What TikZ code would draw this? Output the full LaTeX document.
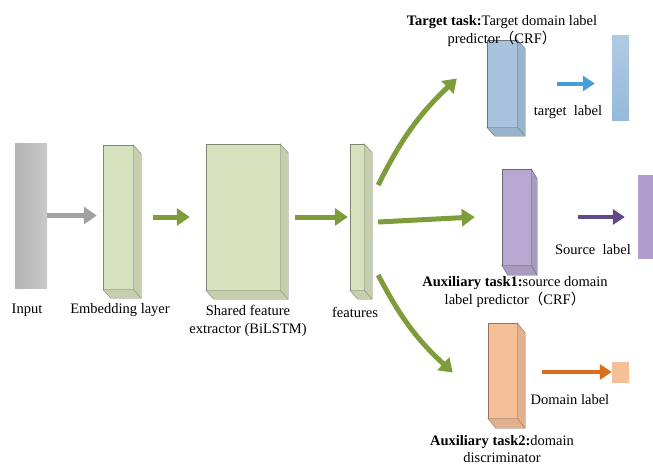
\documentclass[tikz,border=0pt]{standalone}
\usepackage{fontspec}
\setmainfont{Liberation Serif}
\newfontfamily\cjk{Noto Sans CJK SC}
\usetikzlibrary{arrows.meta, calc}

\definecolor{blockgreen}{RGB}{214,225,189}
\definecolor{arrowgreen}{RGB}{126,156,58}
\definecolor{inputgray}{RGB}{188,188,188}
\definecolor{arrowgray}{RGB}{162,162,162}
\definecolor{blockblue}{RGB}{167,195,222}
\definecolor{labelblue}{RGB}{150,185,218}
\definecolor{arrowblue}{RGB}{66,160,214}
\definecolor{blockpurple}{RGB}{184,168,207}
\definecolor{labelpurple}{RGB}{176,157,206}
\definecolor{arrowpurple}{RGB}{96,72,140}
\definecolor{blockorange}{RGB}{245,191,152}
\definecolor{arroworange}{RGB}{218,110,32}

\tikzset{
	block/.style={draw=#1!60!black, fill=#1, line width=0.4pt, inner sep=0pt},
	flat/.style={draw=none, fill=#1, inner sep=0pt},
	lbl/.style={font=\fontsize{14.5}{18}\selectfont, align=center, inner sep=0pt},
	flow/.style={line width=5pt, draw=#1, -{Triangle[length=13pt, width=17pt]}},
	outflow/.style={line width=4pt, draw=#1, -{Triangle[length=12pt, width=15pt]}}
}

% right side and bottom faces of a block: node, dx, dy, colour
\newcommand{\blockside}[4]{%
	\filldraw [fill=#4!92!black, draw=#4!60!black, line width=0.4pt]
		(#1.north east) -- ++(#2,#3) -- ($(#1.south east)+(#2,#3)$)
		-- ($(#1.south west)+(#2,#3)$) -- (#1.south west) -- (#1.south east) -- cycle;
	\draw [draw=#4!60!black, line width=0.4pt] (#1.south east) -- ($(#1.south east)+(#2,#3)$);
}

\begin{document}
\begin{tikzpicture}[x=1pt, y=-1pt]
	\useasboundingbox (0,0) rectangle (653,467);

	% shared part
	\node [flat=inputgray, left color=inputgray!95!black, right color=inputgray!80!white, minimum width=32pt, minimum height=145pt] (input) at (31,215.5) {};
	\node [block=blockgreen, minimum width=30pt, minimum height=144pt] (embed) at (118,217) {};
	\blockside{embed}{8}{9}{blockgreen}
	\node [block=blockgreen, minimum width=74pt, minimum height=146pt] (shared) at (243,217) {};
	\blockside{shared}{8}{9}{blockgreen}
	\node [block=blockgreen, minimum width=14pt, minimum height=146pt] (feats) at (357,217) {};
	\blockside{feats}{8}{9}{blockgreen}

	% task heads
	\node [block=blockblue, minimum width=30pt, minimum height=87pt] (target) at (502,83.5) {};
	\blockside{target}{8}{9}{blockblue}
	\node [block=blockpurple, minimum width=29pt, minimum height=96pt] (source) at (516.5,217) {};
	\blockside{source}{6}{10}{blockpurple}
	\node [block=blockorange, minimum width=29pt, minimum height=95pt] (domain) at (502.5,370.5) {};
	\blockside{domain}{8}{10}{blockorange}

	% outputs
	\node [flat=labelblue, top color=labelblue!75!white, bottom color=labelblue, minimum width=17pt, minimum height=85pt] (tlabel) at (620.5,77.5) {};
	\node [flat=labelpurple, minimum width=22pt, minimum height=84pt] (slabel) at (649,217) {};
	\node [flat=blockorange, minimum width=17pt, minimum height=21pt] (dlabel) at (620.5,372.5) {};

	% connectors
	\draw [flow=arrowgray, shorten >=6pt] (input.east) -- (input.east -| embed.west);
	\draw [flow=arrowgreen, shorten <=20pt, shorten >=16pt] (embed.east) -- (shared.west);
	\draw [flow=arrowgreen, shorten <=15pt, shorten >=2pt] (shared.east) -- (feats.west);
	\draw [flow=arrowgreen] ([xshift=14pt, yshift=32pt]feats.east) to [bend left=10] ([xshift=-30pt, yshift=5pt]target.west);
	\draw [flow=arrowgreen] ([xshift=14pt, yshift=-5pt]feats.east) -- ([xshift=-27pt]source.west);
	\draw [flow=arrowgreen] ([xshift=14pt, yshift=-58pt]feats.east) to [bend right=10] ([xshift=-35pt, yshift=-2pt]domain.west);
	\draw [outflow=arrowblue, shorten <=40pt, shorten >=17pt] (target.east) -- (target.east -| tlabel.west);
	\draw [outflow=arrowpurple, shorten <=47pt, shorten >=13pt] (source.east) -- (source.east -| slabel.west);
	\draw [outflow=arroworange, shorten <=25pt] ([yshift=-1.5pt]domain.east) -- ([yshift=-1.5pt]domain.east -| dlabel.west);

	% texts
	\node [lbl] (inputtxt) at (27,310) {Input};
	\node [lbl] (embedtxt) at (120,310) {Embedding layer};
	\node [lbl] (sharedtxt) at (248,321) {Shared feature\\extractor (BiLSTM)};
	\node [lbl] (featstxt) at (355,312) {features};
	\node [lbl] (targettxt) at (502,31) {\textbf{Target task:}Target domain label\\predictor{\cjk （}CRF{\cjk ）}};
	\node [lbl] (tlabeltxt) at (568,112) {target\ \ label};
	\node [lbl] (sourcetxt) at (515,292) {\textbf{Auxiliary task1:}source domain\\label predictor{\cjk （}CRF{\cjk ）}};
	\node [lbl] (slabeltxt) at (593,250) {Source\ \ label};
	\node [lbl, font=\fontsize{14.5}{17}\selectfont] (domaintxt) at (502,449) {\textbf{Auxiliary task2:}domain\\discriminator};
	\node [lbl] (dlabeltxt) at (570,400) {Domain label};
\end{tikzpicture}
\end{document}
